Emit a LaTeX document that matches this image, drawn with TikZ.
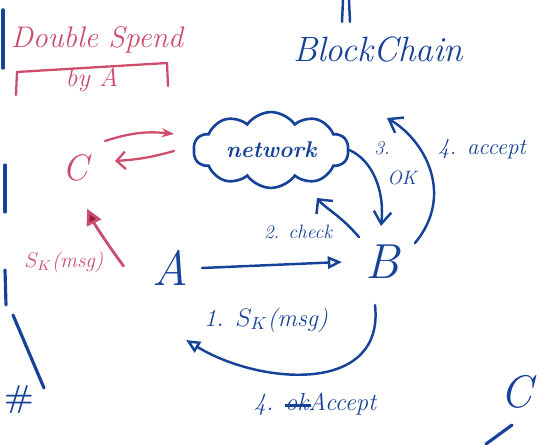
\documentclass[tikz,border=0pt]{standalone}
\usetikzlibrary{positioning,shapes.symbols,arrows.meta}
\definecolor{penblue}{RGB}{22,66,152}
\definecolor{penred}{RGB}{204,78,108}
\definecolor{darkred}{RGB}{150,28,62}
\newcommand{\crossedok}{\rlap{\rule[0.3ex]{1.05em}{1.6pt}}ok}
\tikzset{
  bluetxt/.style={text=penblue, font=\itshape\fontsize{#1}{#1}\selectfont, inner sep=1pt},
  redtxt/.style={text=penred, font=\itshape\fontsize{#1}{#1}\selectfont, inner sep=1pt},
  blueline/.style={draw=penblue, line width=1.4pt, line cap=round},
  redline/.style={draw=penred, line width=1.3pt, line cap=round},
  netcloud/.style={cloud, cloud puffs=10, cloud puff arc=110, aspect=2.2, draw=penblue, line width=1.5pt,
    minimum width=3.1cm, minimum height=1.5cm, inner sep=0pt}
}
\begin{document}
\begin{tikzpicture}[x=0.02cm, y=-0.02cm]
  \useasboundingbox (0,0) rectangle (540,445);
  % title
  \node[redtxt=17] (title) at (97,40) {Double Spend};
  \node[redtxt=15] (byA) at (92,80) {by A};
  \draw[redline] (16,95) -- (17,72) -- (167,63) -- (168,86);
  \node[bluetxt=20] (chain) at (378,50) {BlockChain};
  \draw[blueline] (343,0) -- (342,22);
  \draw[blueline] (349,0) -- (350,22);
  % parties
  \node[netcloud, text=penblue, font=\bfseries\itshape\fontsize{13}{13}\selectfont] (net) at (271,150) {network};
  \node[bluetxt=28] (A) at (170,268) {A};
  \node[bluetxt=28] (B) at (382,262) {B};
  \node[redtxt=21] (C) at (75,168) {C};
  % C and the network
  \coordinate (cup) at (105,141);
  \coordinate (cupend) at (174,134);
  \coordinate (cdown) at (174,151);
  \coordinate (cdownend) at (115,161);
  \draw[redline, -{Stealth[open, length=7pt]}] (cup) to[bend left=12] (cupend);
  \draw[redline, -{Straight Barb[length=5pt]}] (cdown) to[bend left=6] (cdownend);
  \node[redtxt=12] (sk) at (64,262) {$S_K$(msg)};
  \draw[redline, line width=1.6pt, -{Triangle[fill=darkred, length=9pt, width=9pt]}, shorten >=16pt]
    (sk.east) ++(18,4) .. controls (108,245) and (95,225) .. (C.south);
  % steps
  \draw[blueline, -{Triangle[open, length=8pt, width=7pt]}] (A.east) ++(12,0) -- ([xshift=-12pt]B.west);
  \node[bluetxt=14] (sign) at (266,320) {1. $S_K$(msg)};
  \draw[blueline, -{Straight Barb[length=6pt]}] (B.north west) ++(-4,-6) .. controls (340,215) and (325,208) .. (317,198);
  \node[bluetxt=11] (check) at (298,232) {2. check};
  \draw[blueline, -{Straight Barb[length=7pt, width=10pt]}] (net.east) .. controls (372,160) and (385,190) .. (381,226);
  \node[bluetxt=11] (three) at (382,148) {3.};
  \node[bluetxt=11] (ok) at (402,178) {OK};
  \coordinate (accend) at (387,118);
  \draw[blueline, -{Straight Barb[length=7pt, width=10pt]}] (415,243) .. controls (455,195) and (425,140) .. (accend);
  \node[bluetxt=13] (acc) at (482,149) {4. accept};
  \coordinate (ret) at (186,340);
  \draw[blueline, -{Triangle[open, length=8pt, width=7pt]}] (375,305) .. controls (385,395) and (260,385) .. (ret);
  \node[bluetxt=14] (acc2) at (315,404) {4. \crossedok Accept};
  % edge marks
  \draw[blueline, line width=2pt] (3,10) -- (3,68);
  \draw[blueline, line width=1.8pt] (5,165) -- (5,212);
  \draw[blueline, line width=1.8pt] (5,270) -- (6,305);
  \draw[blueline, line width=1.8pt] (13,315) -- (44,388);
  \node[text=penblue, font=\bfseries\fontsize{18}{18}\selectfont, inner sep=1pt] (hash) at (19,400) {\#};
  \node[bluetxt=26] (cright) at (516,392) {C};
  \draw[blueline, line width=1.8pt] (486,444) -- (512,425);
\end{tikzpicture}
\end{document}
